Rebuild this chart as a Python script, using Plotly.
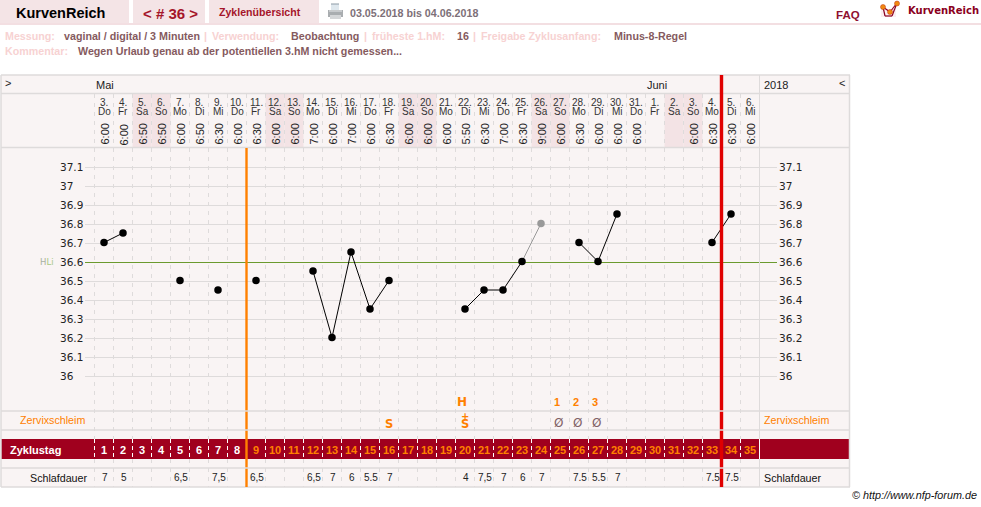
import plotly.graph_objects as go

W, H = 981, 507

# Calendar columns
day_nums = ["3","4","5","6","7","8","9","10","11","12","13","14","15","16","17","18","19","20","21",
            "22","23","24","25","26","27","28","29","30","31","1","2","3","4","5","6"]
weekdays = ["Do","Fr","Sa","So","Mo","Di","Mi","Do","Fr","Sa","So","Mo","Di","Mi","Do","Fr","Sa","So","Mo",
            "Di","Mi","Do","Fr","Sa","So","Mo","Di","Mi","Do","Fr","Sa","So","Mo","Di","Mi"]
times = ["6:00","6:00","6:50","6:50","6:00","6:50","6:30","6:00","6:30","6:00","6:00","7:00","6:00","7:00",
         "6:00","6:30","6:00","6:00","6:00","5:50","6:30","7:00","6:30","9:00","6:00","6:30","6:00","6:00",
         "6:00","","","6:00","6:30","6:30","6:00"]

# Temperature readings, None where nothing was measured
temps = [36.7,36.75,None,None,36.5,None,36.45,None,36.5,None,None,36.55,36.2,36.65,36.35,36.5,None,None,None,
         36.35,36.45,36.45,36.6,None,None,36.7,36.6,36.85,None,None,None,None,36.7,36.85,None]
excluded_x = [22, 23]
excluded_y = [36.6, 36.8]
cover_line = 36.6
temp_ticks = [37.1,37.0,36.9,36.8,36.7,36.6,36.5,36.4,36.3,36.2,36.1,36.0]
temp_labels = ["37.1","37","36.9","36.8","36.7","36.6","36.5","36.4","36.3","36.2","36.1","36"]

# Lower rows
sleep = ["7","5","","","6,5","","7,5","","6,5","","","6,5","7","6","5.5","7","","","","4","7,5","7","6","7",
         "","7.5","5.5","7","","","","","7.5","7.5",""]
cycle_days = list(range(1, 36))
mucus_marks = {15: "S", 19: "S", 24: "Ø", 25: "Ø", 26: "Ø"}
peak_marks = {19: "H", 24: "1", 25: "2", 26: "3"}
shift_day = 8      # column the orange line precedes
cover_day = 33     # column the red line precedes

PANEL = "#f9f4f4"
TAB = "#f4e4e6"
WEEKEND = "#f3e3e5"
RULE = "#dedbdb"
BAND = "#a0001e"
ORANGE = "#ff8000"
RED = "#e00000"
ARIAL = "Liberation Sans"
PAD = 2   # annotation boxes inset their text by this many px

def xp(px):
    return px / W

def yp(py):
    return 1 - py / H

shapes = []
notes = []

def rect(x0, y0, x1, y1, fill, layer="below"):
    shapes.append(dict(type="rect", xref="paper", yref="paper", x0=xp(x0), x1=xp(x1), y0=yp(y0), y1=yp(y1),
                       fillcolor=fill, line_width=0, layer=layer))

def seg(x0, y0, x1, y1, color, width=1, dash="solid", layer="below"):
    shapes.append(dict(type="line", xref="paper", yref="paper", x0=xp(x0), x1=xp(x1), y0=yp(y0), y1=yp(y1),
                       line=dict(color=color, width=width, dash=dash), layer=layer))

def col_seg(col, y0, y1, color, width=1, dash="solid", layer="below"):
    shapes.append(dict(type="line", xref="x", yref="paper", x0=col - 0.5, x1=col - 0.5, y0=yp(y0), y1=yp(y1),
                       line=dict(color=color, width=width, dash=dash), layer=layer))

def temp_rule(t, color, width):
    # Rules sit one pixel under the value they mark, on a whole pixel row
    shapes.append(dict(type="line", xref="paper", yref="y", x0=xp(85), x1=xp(777), yanchor=t, ysizemode="pixel",
                       y0=-1, y1=-1, line=dict(color=color, width=width), layer="below"))

def text(x, y, s, size=11, color="#222222", bold=False, anchor="left", font=ARIAL, angle=0, italic=False):
    label = f"<b>{s}</b>" if bold else s
    if italic:
        label = f"<i>{label}</i>"
    if anchor == "left":
        x -= PAD
    elif anchor == "right":
        x += PAD
    notes.append(dict(xref="paper", yref="paper", x=xp(x), y=yp(y), text=label, showarrow=False,
                      xanchor=anchor, yanchor="middle", textangle=angle,
                      font=dict(family=font, size=size, color=color)))

def col_text(col, y, s, dx=0, **kw):
    kw.setdefault("anchor", "center")
    text(104 + 19 * col + dx, y, s, **kw)

# Page header
rect(0, 0, 129, 23, TAB)
rect(133, 0, 205, 23, TAB)
rect(209, 0, 319, 23, TAB)
rect(0, 23, W, 25, "#f3dfe2")
text(16, 13, "KurvenReich", size=14.5, color="#000000", bold=True)
text(143, 13, "&lt; # 36 &gt;", size=15, color="#a5152a", bold=True)
text(219, 12, "Zyklenübersicht", size=10.6, color="#a5152a", bold=True)
text(350, 12.5, "03.05.2018 bis 04.06.2018", size=10.7, color="#7d7078", bold=True)
text(836, 14.5, "FAQ", size=11.5, color="#8f1030", bold=True)
text(908, 10.5, "KurvenReich", size=10, color="#8a0020", bold=True, font="DejaVu Sans")

# Printer icon
rect(331, 4, 339, 11, "#dfe8ee")
rect(328, 10, 343, 17, "#a9adb0")
rect(330, 15, 341, 19, "#d4d6d8")
seg(331, 4, 339, 4, "#8d9aa5")
seg(329, 11, 342, 11, "#e6e8ea")

# Logo mark
rect(881, 9, 896, 17, "#fbeef0")
for a, b in [((883, 7), (885, 16)), ((885, 16), (892, 16)), ((892, 16), (897, 3)),
             ((883, 7), (890, 12)), ((890, 12), (897, 3))]:
    seg(a[0], a[1], b[0], b[1], "#8a0020", 1.2)
for cx, cy in [(883, 7), (890, 12), (897, 3.5)]:
    shapes.append(dict(type="circle", xref="paper", yref="paper", x0=xp(cx - 2.5), x1=xp(cx + 2.5),
                       y0=yp(cy + 2.5), y1=yp(cy - 2.5), fillcolor="#f08a10",
                       line=dict(color="#c03010", width=0.5), layer="below"))

# Settings lines
LABEL = "#f7d2d2"
VALUE = "#855a5e"
for x, s, c in [(5, "Messung:", LABEL), (64, "vaginal / digital / 3 Minuten", VALUE), (204, "|", LABEL),
                (212, "Verwendung:", LABEL), (291, "Beobachtung", VALUE), (364, "|", LABEL),
                (372, "früheste 1.hM:", LABEL), (457, "16", VALUE), (473, "|", LABEL),
                (481, "Freigabe Zyklusanfang:", LABEL), (614, "Minus-8-Regel", VALUE)]:
    text(x, 36, s, size=10.7, color=c, bold=True)
text(5, 51, "Kommentar:", size=10.7, color=LABEL, bold=True)
text(78, 51, "Wegen Urlaub genau ab der potentiellen 3.hM nicht gemessen...", size=10.7, color=VALUE, bold=True)

# Chart panel and weekend columns
rect(1, 75, 850, 487, PANEL)
for i, wd in enumerate(weekdays):
    if wd in ("Sa", "So"):
        shapes.append(dict(type="rect", xref="x", yref="paper", x0=i - 0.5, x1=i + 0.5, y0=yp(148), y1=yp(94),
                           fillcolor=WEEKEND, line_width=0, layer="below"))

# Temperature grid
for t in temp_ticks:
    temp_rule(t, RULE, 1)
temp_rule(cover_line, "#6b9a2e", 1)

# Column separators
for i in range(35):
    col_seg(i, 94, 147, RULE, dash="4px,5px")
    col_seg(i, 148, 439, RULE, dash="4px,5px")
    col_seg(i, 459, 487, RULE, dash="4px,5px")

# Zyklustag band
rect(1, 439, 850, 459, BAND)
for i in range(35):
    col_seg(i, 439, 459, "#ffffff", dash="4px,3px")
col_seg(35, 75, 487, RULE)
col_seg(35, 439, 459, "#ffffff")

# Marker lines through the chart
col_seg(shift_day, 148, 487, ORANGE, width=2.4, layer="above")
col_seg(cover_day, 75, 487, RED, width=3.4, layer="above")

# Row rules sit on top of the marker lines
for y in (411, 430, 468):
    seg(1, y, 850, y, RULE, 1.5, layer="above")
for y in (75, 93.5, 147.5, 487):
    seg(1, y, 850, y, RULE, 1.5, layer="below")
seg(1, 75, 1, 487, RULE, 1.5)
seg(849.5, 75, 849.5, 487, RULE, 1.5)

# Month row
text(5, 83, "&gt;", size=11, color="#222222")
text(96, 85, "Mai", size=11)
text(647, 85, "Juni", size=11)
text(764, 85, "2018", size=11)
text(839, 83, "&lt;", size=11, color="#222222")

# Day headers
for i in range(35):
    col_text(i, 102, day_nums[i] + ".", size=10, color="#333333")
    col_text(i, 111.5, weekdays[i], size=10, color="#333333")
    if times[i]:
        col_text(i, 134.5, times[i], size=11, color="#222222", angle=-90)

# Temperature axis labels on both sides
for t, lab in zip(temp_ticks, temp_labels):
    for px in (60, 779):
        notes.append(dict(xref="paper", yref="y", x=xp(px - PAD), y=t, text=lab, showarrow=False,
                          xanchor="left", yanchor="middle",
                          font=dict(family="DejaVu Sans", size=10.5, color="#222222")))
notes.append(dict(xref="paper", yref="y", x=xp(40 - PAD), y=cover_line,
                  text='<span style="color:#a8b0a0">H</span><span style="color:#a8c880">Li</span>',
                  showarrow=False, xanchor="left", yanchor="middle", font=dict(family="DejaVu Sans", size=8.5)))

# Observation rows
text(20, 420, "Zervixschleim", size=10.7, color=ORANGE)
text(764, 420, "Zervixschleim", size=10.7, color=ORANGE)
for col, s in peak_marks.items():
    if s == "H":
        col_text(col, 402, s, dx=-3, size=12, color=ORANGE, font="DejaVu Sans", bold=True)
    else:
        col_text(col, 402, s, dx=-3, size=11, color=ORANGE, bold=True)
for col, s in mucus_marks.items():
    if s == "S":
        col_text(col, 423.5, s, dx=0, size=11.5, color=ORANGE, bold=True, font="DejaVu Sans")
    else:
        col_text(col, 423, s, dx=-1.5, size=12, color="#806064", font="DejaVu Sans")
col_text(19, 416.5, "+", dx=0, size=10, color=ORANGE, bold=True, font="DejaVu Sans")

# Cycle day row
text(10, 449.5, "Zyklustag", size=11, color="#ffffff", bold=True)
for i, n in enumerate(cycle_days):
    col_text(i, 449.5, str(n), size=11, bold=True, color="#ffffff" if i < shift_day else ORANGE)

# Sleep row
text(30, 477.5, "Schlafdauer", size=10.7, color="#111111")
text(764, 477.5, "Schlafdauer", size=10.7, color="#111111")
for i, s in enumerate(sleep):
    if s:
        col_text(i, 477.5, s, dx=1, size=10, color="#222222")

text(977, 495, "© http://www.nfp-forum.de", size=10.8, color="#111111", anchor="right", italic=True)

fig = go.Figure()
fig.add_trace(go.Scatter(x=excluded_x, y=excluded_y, mode="lines", line=dict(color="#999999", width=1),
                         hoverinfo="skip", showlegend=False))
fig.add_trace(go.Scatter(x=list(range(len(temps))), y=temps, mode="lines+markers", connectgaps=False,
                         line=dict(color="#000000", width=1), marker=dict(color="#000000", size=7.5),
                         showlegend=False))
fig.add_trace(go.Scatter(x=excluded_x[1:], y=excluded_y[1:], mode="markers", marker=dict(color="#999999", size=7.5),
                         showlegend=False))

# 19 px per day, 190 px per degree; day 0 sits at px 104 and 37.1 at px 166.5
fig.update_layout(
    width=W, height=H, autosize=False, margin=dict(l=0, r=0, t=0, b=0, pad=0),
    paper_bgcolor="#ffffff", plot_bgcolor="#ffffff", showlegend=False,
    xaxis=dict(range=[-104 / 19, (W - 104) / 19], visible=False, fixedrange=True, domain=[0, 1]),
    yaxis=dict(range=[37.1 - (H - 166.5) / 190, 37.1 + 166.5 / 190], visible=False, fixedrange=True, domain=[0, 1]),
    shapes=shapes, annotations=notes,
)
fig.write_html("out.html", config=dict(displayModeBar=False))
